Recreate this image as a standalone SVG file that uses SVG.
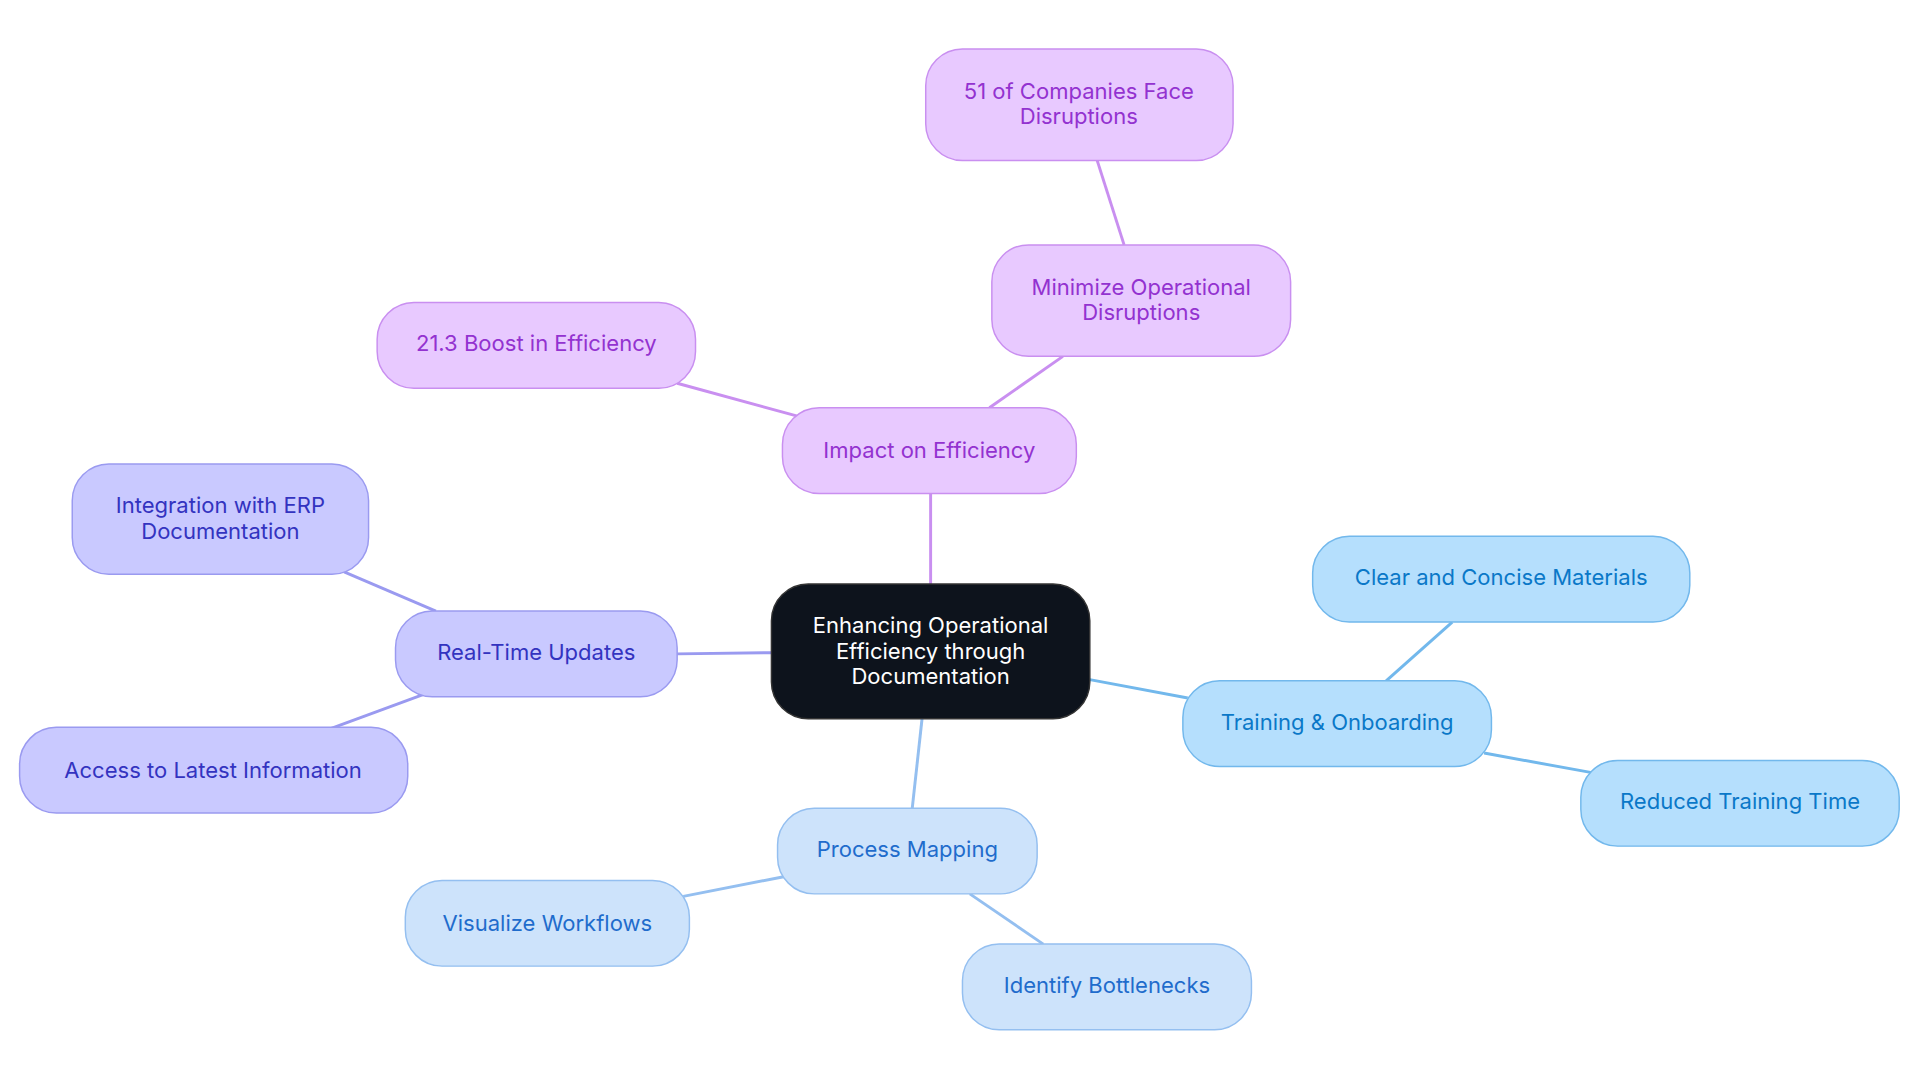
<svg xmlns="http://www.w3.org/2000/svg" width="1920" height="1083" viewBox="0 0 1920 1083">
<style>
text{font-family:Inter,"Noto Sans","Liberation Sans",sans-serif;font-size:18px;text-anchor:middle}
.p rect{fill:#e8c9ff;stroke:#c98ff0}.p text{fill:#9332d0}
.i rect{fill:#c9c9ff;stroke:#9a9af0}.i text{fill:#3333c0}
.l rect{fill:#cde3fb;stroke:#94bff0}.l text{fill:#1f6ccc}
.s rect{fill:#b5dffd;stroke:#72b8ec}.s text{fill:#0a78c8}
rect{stroke-width:1.2}
#edges line{stroke-width:2.4;fill:none}
</style>
<rect width="1920" height="1083" fill="#fff"/>
<g transform="scale(1.2245)">
<g id="edges">
<g stroke="#c98ff0"><line x1="760" y1="477" x2="760" y2="403"/><line x1="808" y1="333" x2="868" y2="291"/><line x1="918" y1="200" x2="896" y2="131"/><line x1="652" y1="340" x2="553" y2="313"/></g>
<g stroke="#9a9af0"><line x1="630" y1="533" x2="553" y2="534"/><line x1="356" y1="499" x2="281" y2="467"/><line x1="346" y1="567" x2="270" y2="595"/></g>
<g stroke="#94bff0"><line x1="753" y1="587" x2="745" y2="660"/><line x1="640" y1="716" x2="558" y2="732"/><line x1="792" y1="730" x2="852" y2="771"/></g>
<g stroke="#72b8ec"><line x1="890" y1="555" x2="970" y2="570"/><line x1="1132" y1="556" x2="1186" y2="508"/><line x1="1212" y1="615" x2="1300" y2="631"/></g>
</g>
<g id="center"><rect x="630" y="477" width="260" height="110" rx="30" fill="#0d131c" stroke="#333"/><text fill="#fff" x="760" y="517">Enhancing Operational</text><text fill="#fff" x="760" y="538">Efficiency through</text><text fill="#fff" x="760" y="559">Documentation</text></g>
<g id="impact" class="p"><rect x="639" y="333" width="240" height="70" rx="30"/><text x="759" y="374">Impact on Efficiency</text></g>
<g id="minimize" class="p"><rect x="810" y="200" width="244" height="91" rx="30"/><text x="932" y="241">Minimize Operational</text><text x="932" y="261">Disruptions</text></g>
<g id="companies" class="p"><rect x="756" y="40" width="251" height="91" rx="30"/><text x="881" y="81">51 of Companies Face</text><text x="881" y="101">Disruptions</text></g>
<g id="boost" class="p"><rect x="308" y="247" width="260" height="70" rx="30"/><text x="438" y="287">21.3 Boost in Efficiency</text></g>
<g id="realtime" class="i"><rect x="323" y="499" width="230" height="70" rx="30"/><text x="438" y="539">Real-Time Updates</text></g>
<g id="integration" class="i"><rect x="59" y="379" width="242" height="90" rx="30"/><text x="180" y="419">Integration with ERP</text><text x="180" y="440">Documentation</text></g>
<g id="access" class="i"><rect x="16" y="594" width="317" height="70" rx="30"/><text x="174" y="635">Access to Latest Information</text></g>
<g id="process" class="l"><rect x="635" y="660" width="212" height="70" rx="30"/><text x="741" y="700">Process Mapping</text></g>
<g id="visualize" class="l"><rect x="331" y="719" width="232" height="70" rx="30"/><text x="447" y="760">Visualize Workflows</text></g>
<g id="identify" class="l"><rect x="786" y="771" width="236" height="70" rx="30"/><text x="904" y="811">Identify Bottlenecks</text></g>
<g id="training" class="s"><rect x="966" y="556" width="252" height="70" rx="30"/><text x="1092" y="596">Training &amp; Onboarding</text></g>
<g id="clear" class="s"><rect x="1072" y="438" width="308" height="70" rx="30"/><text x="1226" y="478">Clear and Concise Materials</text></g>
<g id="reduced" class="s"><rect x="1291" y="621" width="260" height="70" rx="30"/><text x="1421" y="661">Reduced Training Time</text></g>
</g>
</svg>
